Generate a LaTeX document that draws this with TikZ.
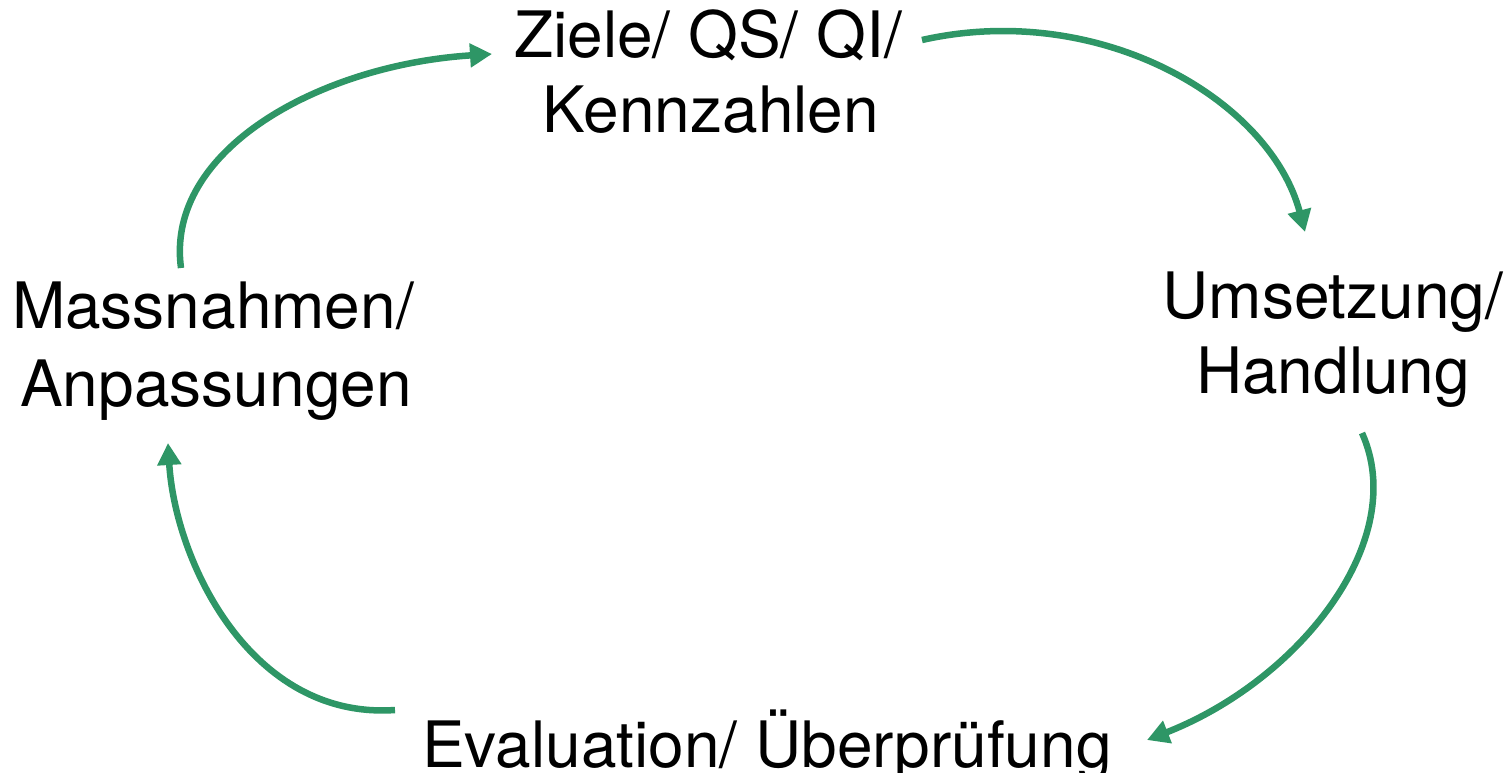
\documentclass[tikz,border=0pt]{standalone}
\usepackage{fontspec}
\setmainfont{TeX Gyre Heros}
\usetikzlibrary{arrows.meta}
\definecolor{cyclegreen}{RGB}{46,150,102}
\tikzset{
  lbl/.style={anchor=base,inner sep=0pt,font=\fontsize{64}{75}\selectfont},
  cyc/.style={draw=cyclegreen,line width=6.5pt,-{Triangle[length=22pt,width=23pt]}}
}
\begin{document}
\begin{tikzpicture}[x=1pt,y=-1pt]
\useasboundingbox (0,0) rectangle (1510,772);
% labels
\node[lbl] (z1) at (708,57) {Ziele/ QS/ QI/};
\node[lbl] (z2) at (711,132) {Kennzahlen};
\node[lbl] (u1) at (1333,318) {Umsetzung/};
\node[lbl] (u2) at (1333,393) {Handlung};
\node[lbl] (e1) at (767,767) {Evaluation/ Überprüfung};
\node[lbl] (m1) at (213,328) {Massnahmen/};
\node[lbl] (m2) at (216,406) {Anpassungen};
% arrow ends
\coordinate (a1s) at (181,268);
\coordinate (a1e) at (492,54);
\coordinate (a2s) at (922,40);
\coordinate (a2e) at (1305,232);
\coordinate (a3s) at (1362,433);
\coordinate (a3e) at (1147,740);
\coordinate (a4s) at (395,710);
\coordinate (a4e) at (168,443);
% arrows
\draw[cyc] (a1s) .. controls (165,150) and (320,65) .. (a1e);
\draw[cyc] (a2s) .. controls (1100,0) and (1270,100) .. (a2e);
\draw[cyc] (a3s) .. controls (1410,540) and (1300,680) .. (a3e);
\draw[cyc] (a4s) .. controls (250,720) and (175,560) .. (a4e);
\end{tikzpicture}
\end{document}
